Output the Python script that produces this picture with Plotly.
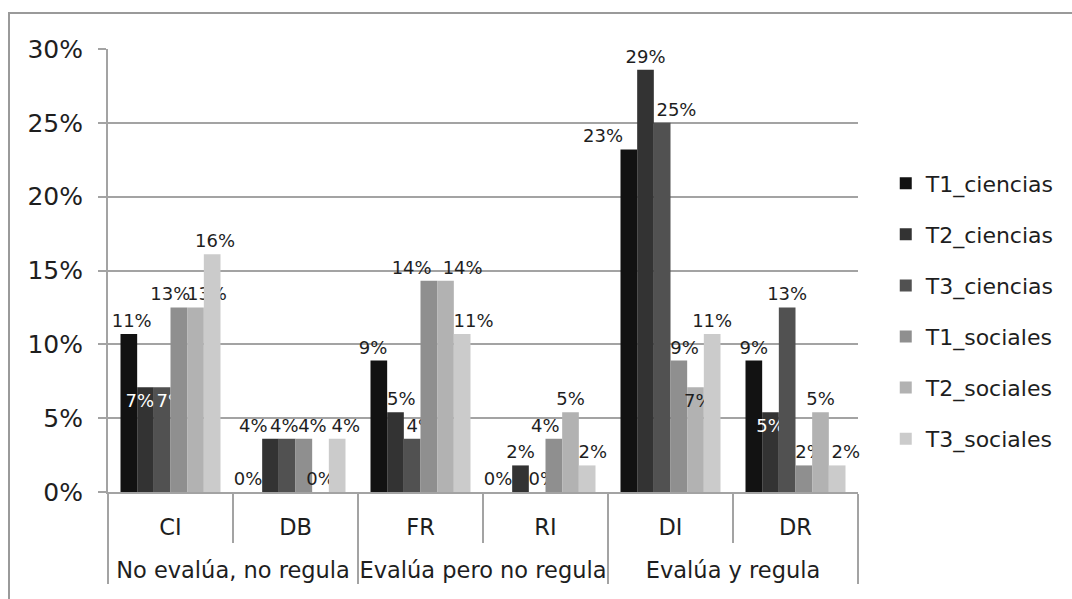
import plotly.graph_objects as go

groups = ["No evalúa, no regula", "No evalúa, no regula",
          "Evalúa pero no regula", "Evalúa pero no regula",
          "Evalúa y regula", "Evalúa y regula"]
categories = ["CI", "DB", "FR", "RI", "DI", "DR"]

series_names = ["T1_ciencias", "T2_ciencias", "T3_ciencias",
                "T1_sociales", "T2_sociales", "T3_sociales"]
T1_ciencias = [0.107, 0.000, 0.089, 0.000, 0.232, 0.089]
T2_ciencias = [0.071, 0.036, 0.054, 0.018, 0.286, 0.054]
T3_ciencias = [0.071, 0.036, 0.036, 0.000, 0.250, 0.125]
T1_sociales = [0.125, 0.036, 0.143, 0.036, 0.089, 0.018]
T2_sociales = [0.125, 0.000, 0.143, 0.054, 0.071, 0.054]
T3_sociales = [0.161, 0.036, 0.107, 0.018, 0.107, 0.018]
series_values = [T1_ciencias, T2_ciencias, T3_ciencias,
                 T1_sociales, T2_sociales, T3_sociales]

y_tickvals = [0, 0.05, 0.10, 0.15, 0.20, 0.25, 0.30]
y_ticktext = ["0%", "5%", "10%", "15%", "20%", "25%", "30%"]

# ---- styling ----
colors = ["#121212", "#333333", "#515151", "#8f8f8f", "#b2b2b2", "#cbcbcb"]
O, I = "outside", "inside"
positions = [
    [O, O, O, O, O, O],
    [I, O, O, O, O, I],
    [I, O, O, O, O, O],
    [O, O, O, O, O, O],
    [O, O, O, O, I, O],
    [O, O, O, O, O, O],
]
TXT = "#1e1e1e"
label_colors = [
    [TXT] * 6,
    ["white", TXT, TXT, TXT, TXT, "white"],
    ["white", TXT, TXT, TXT, TXT, TXT],
    [TXT] * 6,
    [TXT] * 6,
    [TXT] * 6,
]
# horizontal nudge of each data label (px, + = right), as placed in the original
label_dx = [
    [3, -5, -5, -5, -26, 0],
    [-6, -17, 6, 0, 0, 0],
    [9, -4, 8, 7, 13, 0],
    [-9, 8, -18, -8, 7, 7],
    [12, 0, 16, 0, 4, 0],
    [3, 9, 12, 7, 0, 9],
]
LABEL_SIZE = 18
NBSP = "\u00a0"
NBSP_W = 0.318 * LABEL_SIZE


def label(v, dx):
    s = f"{int(v * 100 + 0.5)}%"
    n = int(round(2 * abs(dx) / NBSP_W))
    return NBSP * n + s if dx > 0 else s + NBSP * n


# sub-category labels carry an empty second line to open the gap to the group row
cat_labels = [c + "<br> " for c in categories]

FONT = "DejaVu Sans"
fig = go.Figure()
for name, vals, col, pos, lc, dxs in zip(series_names, series_values, colors,
                                         positions, label_colors, label_dx):
    fig.add_trace(go.Bar(
        name=name, x=[groups, cat_labels], y=vals,
        marker=dict(color=col, line=dict(width=0)),
        text=[label(v, d) for v, d in zip(vals, dxs)],
        texttemplate="%{text}", textposition=pos,
        insidetextanchor="end", textangle=0, constraintext="none",
        textfont=dict(family=FONT, size=LABEL_SIZE, color=lc),
        cliponaxis=False, legendgroup=name, hoverinfo="x+y+name",
    ))

GRID = "#a3a3a3"
fig.update_layout(
    width=1072, height=599,
    margin=dict(l=108, r=214, t=49, b=106.5),
    paper_bgcolor="white", plot_bgcolor="white",
    barmode="group", bargap=0.2, bargroupgap=0,
    font=dict(family=FONT, color="#1e1e1e"),
    showlegend=True,
    legend=dict(x=1.037, y=0.744, xanchor="left", yanchor="top",
                font=dict(family=FONT, size=22, color="#1e1e1e"),
                tracegroupgap=19.5, bgcolor="rgba(0,0,0,0)"),
    xaxis=dict(type="multicategory", showline=True, linecolor=GRID, linewidth=2,
               ticks="outside", tickson="boundaries", ticklen=49, tickcolor=GRID, tickwidth=2,
               showdividers=True, dividercolor=GRID, dividerwidth=2,
               tickfont=dict(family=FONT, size=22.5, color="#1e1e1e"),
               ticklabelstandoff=14, showgrid=False),
    yaxis=dict(range=[0, 0.30], tickvals=y_tickvals, ticktext=y_ticktext,
               showgrid=True, gridcolor=GRID, gridwidth=2,
               showline=True, linecolor=GRID, linewidth=2,
               ticks="outside", ticklen=8, tickcolor=GRID, tickwidth=2,
               tickfont=dict(family=FONT, size=25, color="#1e1e1e"),
               ticklabelstandoff=10, zeroline=False),
    shapes=[dict(type="rect", xref="paper", yref="paper",
                 x0=-0.132, x1=1.6, y0=-0.5, y1=1.0812,
                 line=dict(color="#9a9a9a", width=2), layer="below")],
)
fig.write_html("out.html")
